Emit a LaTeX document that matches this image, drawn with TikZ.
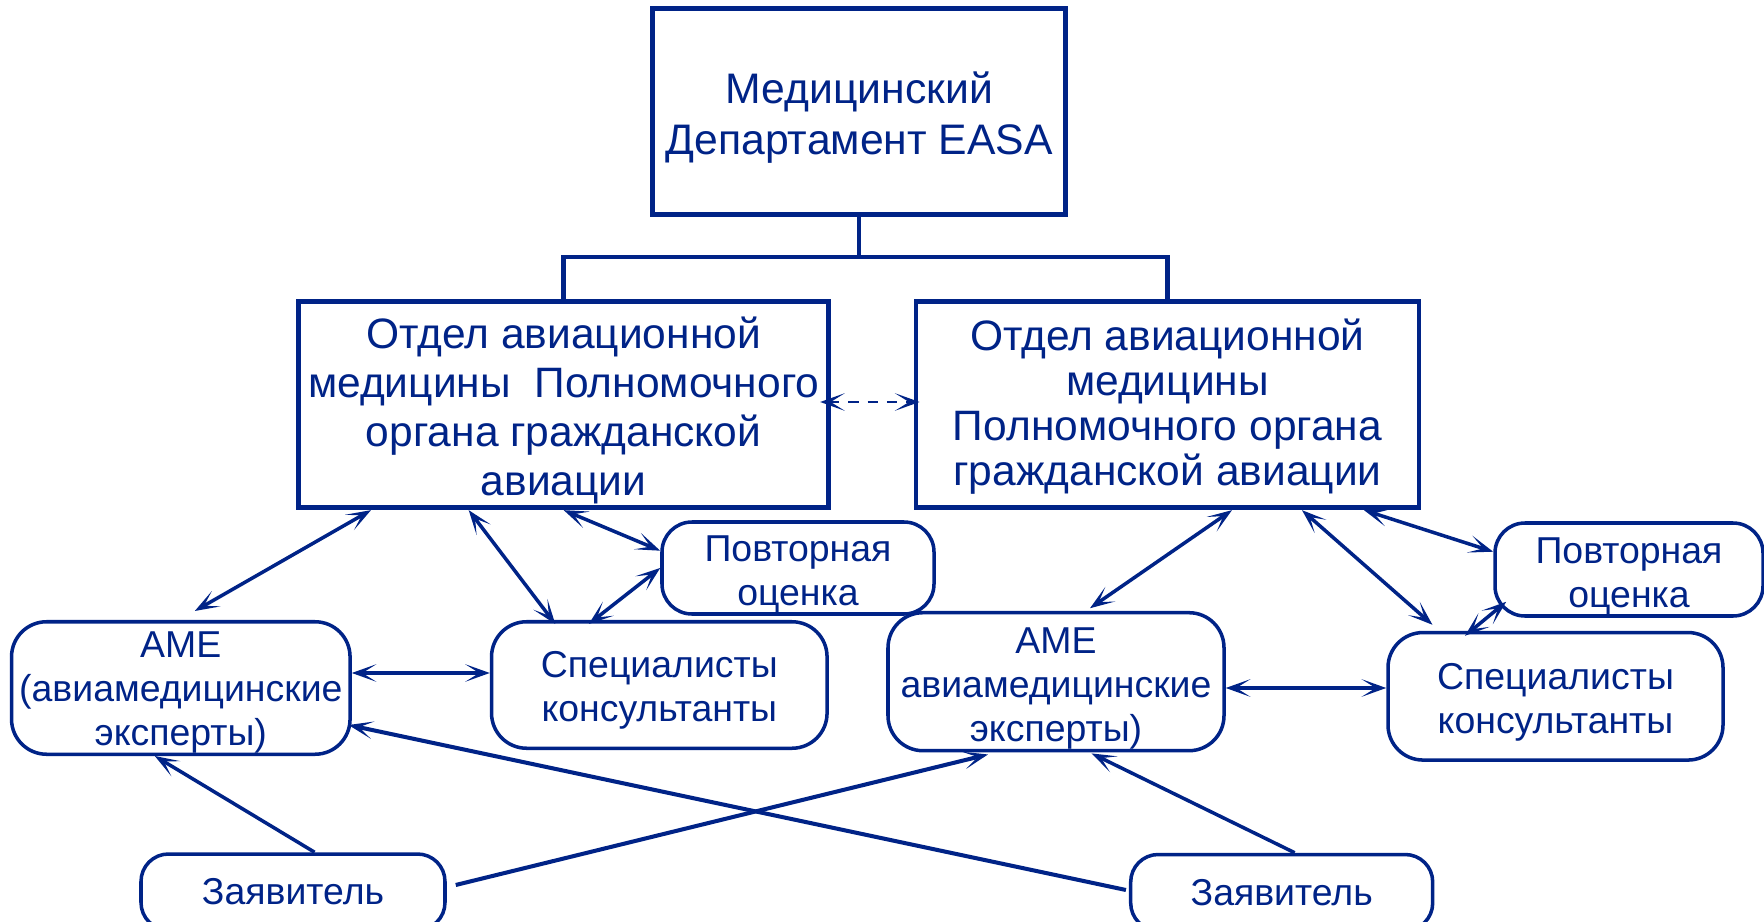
\documentclass[tikz,border=0pt]{standalone}
\usepackage{fontspec}
\setmainfont{Liberation Sans}
\usetikzlibrary{arrows.meta,calc}
\definecolor{navy}{RGB}{0,35,135}
\newcommand{\up}[1]{\rule{0pt}{#1em}}

\begin{document}
\begin{tikzpicture}[scale=0.2,
    >={Stealth[length=14pt,width=10pt,inset=8pt]},
    box/.style={draw=navy, line width=2.8pt, text=navy, align=center, font=\fontsize{24.2}{28}\selectfont},
    bubble/.style={draw=navy, line width=2pt, rounded corners=0.7cm, text=navy, align=center, font=\fontsize{21.3}{25}\selectfont},
    link/.style={navy, line width=2pt}]
    \tikzstyle{every node}+=[inner sep=0pt]
    \useasboundingbox (0,0) rectangle (176.4,-92.2);
    \node [box, font=\fontsize{24.3}{29}\selectfont, minimum width=8.26cm, minimum height=4.13cm] (easa) at (85.92,-11.17) {\up{1.01}Медицинский\\Департамент EASA};
    \node [box, minimum width=10.6cm, minimum height=4.12cm] (dept1) at (56.37,-40.47) {\up{1.02}Отдел авиационной\\медицины~ Полномочного\\органа гражданской\\авиации};
    \node [box, font=\fontsize{24.2}{25.6}\selectfont, minimum width=10.06cm, minimum height=4.12cm] (dept2) at (116.75,-40.47) {\up{0.85}Отдел авиационной\\медицины\\Полномочного органа\\гражданской авиации};
    \node [bubble, rounded corners=0.6cm, minimum width=5.44cm, minimum height=1.84cm] (rev1) at (79.8,-56.8) {\up{1.03}Повторная\\оценка};
    \node [bubble, minimum width=6.71cm, minimum height=2.53cm] (spec1) at (65.93,-68.5) {\up{0.98}Специалисты\\консультанты};
    \node [bubble, minimum width=6.77cm, minimum height=2.65cm] (ame1) at (18.08,-68.8) {\up{0.93}АМЕ\\(авиамедицинские\\эксперты)};
    \node [bubble, minimum width=6.72cm, minimum height=2.76cm] (ame2) at (105.6,-68.17) {\up{1.03}АМЕ\\авиамедицинские\\эксперты)};
    \node [bubble, minimum width=6.7cm, minimum height=2.55cm] (spec2) at (155.55,-69.63) {\up{1.03}Специалисты\\консультанты};
    \node [bubble, rounded corners=0.6cm, minimum width=5.36cm, minimum height=1.86cm] (rev2) at (162.9,-56.95) {\up{1.03}Повторная\\оценка};
    \node [bubble, rounded corners=0.55cm, minimum width=6.08cm, minimum height=1.52cm] (app1) at (29.3,-89.2) {Заявитель};
    \node [bubble, rounded corners=0.55cm, minimum width=6.04cm, minimum height=1.52cm] (app2) at (128.17,-89.25) {Заявитель};
    \coordinate (bar) at (85.92,-25.7);
    \draw [link, line width=2.6pt] (easa.south) -- (bar);
    \draw [link, line width=2.6pt] (dept1.north) |- (bar) -| (dept2.north);
    \draw [link, line width=1.6pt, dash pattern=on 6pt off 5pt, <->] ($(dept1.east)+(-1.1,0.27)$) -- ($(dept2.west)+(0.6,0.27)$);
    \draw [link, <->] ($(dept1.south)+(-19.27,0)$) -- ($(ame1.north)+(1.4,0.9)$);
    \draw [link, <->] ($(dept1.south)+(-9.5,0)$) -- ($(spec1.north)+(-10.4,-0.4)$);
    \draw [link, <->] (dept1.south) -- ($(rev1.west)+(0,1.73)$);
    \draw [link, <->] ($(spec1.north)+(-7.05,-0.4)$) -- (rev1.west);
    \draw [link, <->] ($(ame1.east)+(0,1.5)$) -- ($(spec1.west)+(0,1.2)$);
    \draw [link, <->] ($(dept2.south)+(6.45,0)$) -- ($(ame2.north)+(3.4,0.27)$);
    \draw [link, <->] ($(dept2.south)+(13.45,0)$) -- ($(spec2.north)+(-12.3,0.6)$);
    \draw [link, <->] ($(dept2.south)+(19.65,0)$) -- ($(rev2.west)+(0,1.78)$);
    \draw [link, <->] ($(spec2.north)+(-9.05,-0.5)$) -- ($(rev2.south west)+(1.3,1.6)$);
    \draw [link, <->] ($(ame2.east)+(0,-0.63)$) -- ($(spec2.west)+(0,0.83)$);
    \draw [link, ->] ($(app1.north)+(2.16,0)$) -- ($(ame1.south)+(-2.6,0)$);
    \draw [link, line width=2.3pt, ->] ($(app1.east)+(0.9,0.7)$) -- ($(ame2.south)+(-6.8,-0.2)$);
    \draw [link, line width=2.3pt, ->] ($(app2.west)+(-0.3,0.25)$) -- ($(ame1.east)+(-0.33,-3.7)$);
    \draw [link, ->] ($(app2.north)+(1.3,0)$) -- ($(ame2.south)+(3.57,-0.1)$);
\end{tikzpicture}
\end{document}
